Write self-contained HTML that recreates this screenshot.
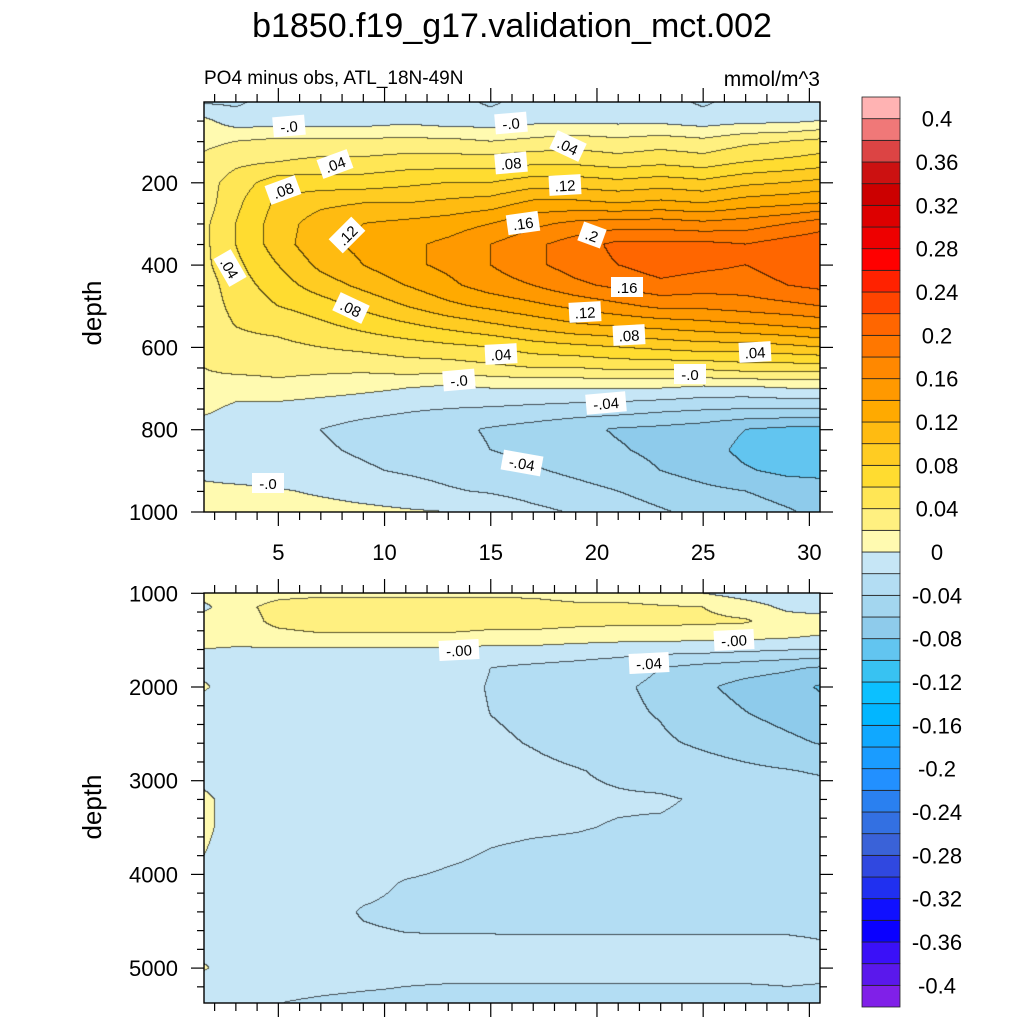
<!DOCTYPE html>
<html><head><meta charset="utf-8">
<style>
html,body{margin:0;padding:0;background:#fff;}
body{width:1024px;height:1024px;position:relative;overflow:hidden;font-family:"Liberation Sans",sans-serif;}
canvas{position:absolute;}
svg{position:absolute;left:0;top:0;}
</style></head>
<body>
<canvas id="c1" style="left:204px;top:102px" width="616" height="410"></canvas>
<canvas id="c2" style="left:204px;top:593px" width="616" height="410"></canvas>
<svg id="ov" width="1024" height="1024"></svg>
<script>
// ---- data ----
const years = [1.5,3,5,7,9,11,13,15,17,19,21,23,25,27,29,30.5];
const depthsTop = [0,50,100,150,200,250,300,350,400,450,500,550,600,650,700,750,800,850,900,950,1000];
const valuesTop = [
[-0.025,-0.025,-0.01,-0.02,-0.01,-0.01,-0.01,-0.025,-0.01,-0.01,-0.01,-0.01,-0.025,-0.01,-0.01,-0.01],
[0.005,-0.01,-0.01,-0.01,-0.01,-0.005,-0.01,-0.01,-0.005,-0.005,-0.005,-0.005,-0.01,-0.005,-0.005,0.0],
[0.015,0.02,0.025,0.025,0.025,0.025,0.025,0.02,0.025,0.03,0.025,0.03,0.025,0.035,0.04,0.045],
[0.025,0.035,0.04,0.045,0.045,0.05,0.05,0.05,0.055,0.055,0.05,0.055,0.05,0.06,0.065,0.07],
[0.03,0.05,0.07,0.07,0.07,0.075,0.08,0.08,0.09,0.09,0.085,0.09,0.085,0.095,0.1,0.105],
[0.03,0.055,0.085,0.095,0.1,0.1,0.105,0.11,0.125,0.125,0.12,0.125,0.12,0.13,0.135,0.14],
[0.035,0.06,0.09,0.11,0.12,0.125,0.13,0.14,0.155,0.165,0.17,0.17,0.165,0.17,0.18,0.19],
[0.035,0.06,0.09,0.115,0.125,0.135,0.145,0.16,0.175,0.19,0.205,0.205,0.205,0.2,0.21,0.215],
[0.035,0.055,0.08,0.105,0.12,0.135,0.145,0.16,0.175,0.19,0.2,0.21,0.205,0.2,0.21,0.215],
[0.03,0.05,0.07,0.09,0.105,0.12,0.135,0.15,0.16,0.175,0.185,0.195,0.19,0.19,0.2,0.205],
[0.03,0.045,0.06,0.07,0.085,0.1,0.115,0.125,0.135,0.145,0.155,0.165,0.165,0.17,0.175,0.18],
[0.03,0.04,0.045,0.055,0.065,0.075,0.085,0.095,0.105,0.115,0.12,0.125,0.13,0.135,0.14,0.145],
[0.025,0.035,0.035,0.04,0.045,0.05,0.055,0.06,0.07,0.075,0.08,0.085,0.09,0.09,0.095,0.1],
[0.02,0.025,0.025,0.025,0.025,0.03,0.03,0.035,0.04,0.04,0.045,0.045,0.045,0.05,0.05,0.05],
[0.015,0.01,0.015,0.01,0.005,0.0,-0.005,0.0,0.0,0.0,0.0,0.0,-0.005,-0.005,0.0,0.0],
[0.005,-0.005,-0.008,-0.012,-0.015,-0.018,-0.02,-0.022,-0.025,-0.028,-0.03,-0.035,-0.038,-0.04,-0.04,-0.04],
[-0.01,-0.012,-0.015,-0.02,-0.025,-0.028,-0.035,-0.042,-0.048,-0.055,-0.062,-0.065,-0.07,-0.08,-0.085,-0.085],
[-0.01,-0.012,-0.015,-0.018,-0.022,-0.026,-0.032,-0.04,-0.045,-0.05,-0.058,-0.065,-0.072,-0.085,-0.09,-0.09],
[-0.005,-0.01,-0.012,-0.015,-0.018,-0.022,-0.026,-0.032,-0.038,-0.044,-0.05,-0.06,-0.068,-0.078,-0.085,-0.085],
[0.005,0.005,0.002,-0.003,-0.008,-0.012,-0.018,-0.022,-0.028,-0.034,-0.04,-0.048,-0.055,-0.06,-0.068,-0.072],
[0.0,0.01,0.01,0.008,0.005,0.002,0.0,-0.005,-0.015,-0.022,-0.03,-0.038,-0.045,-0.05,-0.058,-0.065]
];
const depthsBot = [1000,1150,1300,1450,1600,1800,2000,2300,2600,2900,3200,3500,3800,4100,4400,4700,5000,5200,5380];
const valuesBot = [
[0.01,0.01,0.015,0.015,0.015,0.015,0.015,0.015,0.015,0.01,0.01,0.005,0.0,-0.01,-0.015,-0.02],
[-0.005,0.015,0.025,0.03,0.03,0.03,0.03,0.03,0.028,0.025,0.025,0.022,0.02,0.01,-0.005,-0.01],
[0.01,0.01,0.025,0.03,0.03,0.03,0.03,0.028,0.028,0.026,0.025,0.025,0.024,0.022,0.01,0.01],
[0.01,0.01,0.015,0.018,0.018,0.018,0.018,0.015,0.015,0.012,0.01,0.01,0.008,0.008,0.005,0.0],
[0.0,-0.002,-0.002,-0.003,-0.003,-0.002,-0.002,-0.005,-0.005,-0.008,-0.01,-0.012,-0.012,-0.015,-0.018,-0.02],
[-0.005,-0.005,-0.005,-0.008,-0.01,-0.01,-0.012,-0.02,-0.024,-0.027,-0.032,-0.04,-0.047,-0.052,-0.057,-0.062],
[0.002,-0.008,-0.01,-0.01,-0.012,-0.012,-0.014,-0.021,-0.024,-0.03,-0.037,-0.044,-0.057,-0.066,-0.072,-0.082],
[-0.01,-0.01,-0.01,-0.01,-0.012,-0.012,-0.015,-0.02,-0.024,-0.029,-0.036,-0.041,-0.051,-0.059,-0.066,-0.071],
[-0.01,-0.01,-0.01,-0.01,-0.012,-0.012,-0.014,-0.017,-0.021,-0.026,-0.031,-0.037,-0.043,-0.049,-0.056,-0.061],
[-0.01,-0.01,-0.01,-0.01,-0.012,-0.012,-0.013,-0.014,-0.016,-0.019,-0.023,-0.028,-0.032,-0.036,-0.039,-0.042],
[0.005,-0.01,-0.01,-0.01,-0.01,-0.01,-0.012,-0.013,-0.015,-0.017,-0.018,-0.018,-0.022,-0.025,-0.028,-0.03],
[0.005,-0.01,-0.01,-0.01,-0.012,-0.013,-0.015,-0.017,-0.018,-0.019,-0.021,-0.022,-0.024,-0.025,-0.026,-0.027],
[0.0,-0.01,-0.01,-0.01,-0.012,-0.014,-0.018,-0.021,-0.023,-0.024,-0.025,-0.025,-0.025,-0.026,-0.026,-0.027],
[-0.008,-0.01,-0.01,-0.012,-0.016,-0.021,-0.023,-0.024,-0.025,-0.025,-0.025,-0.025,-0.025,-0.025,-0.025,-0.025],
[-0.008,-0.01,-0.012,-0.015,-0.021,-0.023,-0.024,-0.024,-0.025,-0.025,-0.025,-0.025,-0.025,-0.025,-0.025,-0.025],
[-0.01,-0.012,-0.014,-0.016,-0.018,-0.019,-0.019,-0.019,-0.019,-0.019,-0.019,-0.019,-0.019,-0.019,-0.019,-0.02],
[0.002,-0.01,-0.012,-0.012,-0.013,-0.014,-0.014,-0.014,-0.014,-0.014,-0.014,-0.014,-0.014,-0.014,-0.014,-0.014],
[-0.01,-0.012,-0.014,-0.016,-0.018,-0.02,-0.021,-0.021,-0.021,-0.021,-0.021,-0.021,-0.021,-0.021,-0.02,-0.021],
[-0.012,-0.015,-0.02,-0.023,-0.025,-0.025,-0.025,-0.025,-0.025,-0.025,-0.025,-0.025,-0.025,-0.025,-0.025,-0.025]
];
const xTickLabels = [5,10,15,20,25,30];
const yTickTop = [200,400,600,800,1000];
const yTickBot = [1000,2000,3000,4000,5000];
const cbLabels = ["0.4","0.36","0.32","0.28","0.24","0.2","0.16","0.12","0.08","0.04","0","-0.04","-0.08","-0.12","-0.16","-0.2","-0.24","-0.28","-0.32","-0.36","-0.4"];
// colours from lowest (< -0.4) to highest (> 0.4)
const palette = ["#8020e8","#5a18ec","#3a10f8","#0a00ff","#1010ff","#2030f0","#3048e0","#3a62d8","#3370e2","#2a80f0","#2290ff","#1a9cff","#10a8ff","#02b6ff","#0cc0ff","#38c2f2","#62c5f0","#8ecbeb","#a3d6ef","#b3ddf3","#c6e6f6",
"#fffab0","#fff080","#ffe655","#ffdc30","#ffcc22","#ffbb11","#ffaa00","#ff9900","#ff8800","#ff7700","#ff6600","#ff4400","#ff2200","#ff0000","#ee0000","#dd0000","#cc0000","#cc1111","#dc4444","#f07878","#ffb3b3"];

// ---- axes ----
const X0=204, X1=820;
const xPx = yr => X0 + (yr-1.5)*(X1-X0)/29;
const yTopPx = d => 100.5 + d*0.4115;
const yBotPx = d => 593.3 + (d-1000)*0.0937;
function levelIndex(v){ let i=Math.floor(v/0.02+1e-9)+21; return Math.max(0,Math.min(41,i)); }

function interp(grid, xs, ys, x, y){
  let i=0; while(i<xs.length-2 && x>xs[i+1]) i++;
  let j=0; while(j<ys.length-2 && y>ys[j+1]) j++;
  let tx=Math.max(0,Math.min(1,(x-xs[i])/(xs[i+1]-xs[i])));
  let ty=Math.max(0,Math.min(1,(y-ys[j])/(ys[j+1]-ys[j])));
  const a=grid[j][i],b=grid[j][i+1],c=grid[j+1][i],d=grid[j+1][i+1];
  return a*(1-tx)*(1-ty)+b*tx*(1-ty)+c*(1-tx)*ty+d*tx*ty;
}
function hex(h){return [parseInt(h.substr(1,2),16),parseInt(h.substr(3,2),16),parseInt(h.substr(5,2),16)];}
const pal = palette.map(hex);

function drawField(id, grid, depths, yPx, top){
  const cv=document.getElementById(id), ctx=cv.getContext('2d');
  const W=cv.width,H=cv.height;
  const xs=years.map(xPx), ys=depths.map(yPx);
  const idx=new Int16Array(W*H);
  for(let py=0;py<H;py++)for(let px=0;px<W;px++){
    idx[py*W+px]=levelIndex(interp(grid,xs,ys,X0+px+0.5,top+py+0.5));
  }
  const img=ctx.createImageData(W,H);
  for(let py=0;py<H;py++)for(let px=0;px<W;px++){
    const k=py*W+px; let c=pal[idx[k]];
    const edge=(px<W-1&&idx[k+1]!==idx[k])||(py<H-1&&idx[k+W]!==idx[k]);
    if(edge) c=[c[0]*0.35,c[1]*0.35,c[2]*0.35];
    img.data[k*4]=c[0];img.data[k*4+1]=c[1];img.data[k*4+2]=c[2];img.data[k*4+3]=255;
  }
  ctx.putImageData(img,0,0);
}
drawField('c1',valuesTop,depthsTop,yTopPx,102);
drawField('c2',valuesBot,depthsBot,yBotPx,593);

// ---- overlay ----
const NS="http://www.w3.org/2000/svg", ov=document.getElementById('ov');
function el(tag,attrs,text){const e=document.createElementNS(NS,tag);for(const k in attrs)e.setAttribute(k,attrs[k]);if(text!==undefined)e.textContent=text;ov.appendChild(e);return e;}
function line(x1,y1,x2,y2,name){const e=el('line',{x1,y1,x2,y2,stroke:'#000','stroke-width':1.2});

}
function txt(x,y,s,size,anchor,name,extra){const e=el('text',Object.assign({x,y,'font-size':size,'text-anchor':anchor,'font-family':'Liberation Sans, sans-serif',fill:'#000'},extra||{}),s);

return e;}

function frame(top,bot,name){const r=el('rect',{x:X0,y:top,width:X1-X0,height:bot-top,fill:'none',stroke:'#000','stroke-width':1.4});

}
frame(102,512,'upper-plot-frame');frame(593,1003,'lower-plot-frame');

// x ticks both plots
for(let yr=2;yr<=30;yr++){
  const x=xPx(yr), major=yr%5===0, L=major?14:8;
  line(x,512,x,512+L,'x-tick');line(x,102,x,102-L,'x-tick');
  line(x,1003,x,1003+L,'x-tick');line(x,593,x,593-L,'x-tick');
}
xTickLabels.forEach(v=>txt(xPx(v),560,String(v),22,'middle','x-tick-label'));
// y ticks top
for(let d=50;d<=1000;d+=50){const y=yTopPx(d),L=d%200===0?13:7;line(X0-L,y,X0,y,'y-tick');line(X1,y,X1+L,y,'y-tick');}
yTickTop.forEach(v=>txt(178,yTopPx(v)+8,String(v),22,'end','y-tick-label'));
for(let d=1000;d<=5300;d+=200){const y=yBotPx(d),L=(d%1000===0)?13:7;line(X0-L,y,X0,y,'y-tick');line(X1,y,X1+L,y,'y-tick');}
yTickBot.forEach(v=>txt(178,yBotPx(v)+8,String(v),22,'end','y-tick-label'));

// titles
txt(512,37,'b1850.f19_g17.validation_mct.002',34,'middle','main-title');
txt(204,84,'PO4 minus obs, ATL_18N-49N',19,'start','subtitle');
txt(820,86,'mmol/m^3',21,'end','units-label');
txt(101,313,'depth',26,'middle','y-axis-title-upper',{transform:'rotate(-90 101 313)'});
txt(101,807,'depth',26,'middle','y-axis-title-lower',{transform:'rotate(-90 101 807)'});

// contour labels
const cl=[[289,126,'-.0',-5],[511,123,'-.0',-5],[568,146,'.04',25],[335,164,'.04',-20],[511,163,'.08',-5],[565,185,'.12',-3],[283,190,'.08',-20],[523,223,'.16',-8],[347,235,'.12',-45],[592,235,'.2',20],[230,268,'.04',60],[627,287,'.16',0],[585,312,'.12',-3],[351,308,'.08',25],[629,335,'.08',-3],[501,354,'.04',-3],[755,352,'.04',-3],[459,380,'-.0',-5],[690,374,'-.0',0],[606,403,'-.04',-5],[522,463,'-.04',10],[268,483,'-.0',0],
[459,650,'-.00',-3],[734,640,'-.00',-3],[649,663,'-.04',-3]];
cl.forEach(([x,y,s,a])=>{
  const g=document.createElementNS(NS,'g');g.setAttribute('transform',`translate(${x} ${y}) rotate(${a})`);
  
  
  const w=s.length*8+8;
  const r=document.createElementNS(NS,'rect');r.setAttribute('x',-w/2);r.setAttribute('y',-10);r.setAttribute('width',w);r.setAttribute('height',20);r.setAttribute('fill','#fff');
  const t=document.createElementNS(NS,'text');t.setAttribute('x',0);t.setAttribute('y',6);t.setAttribute('font-size',15);t.setAttribute('text-anchor','middle');t.setAttribute('font-family','Liberation Sans, sans-serif');t.textContent=s;
  g.appendChild(r);g.appendChild(t);ov.appendChild(g);
});

// colorbar
const CB0=97, CB1=1007, cbH=(CB1-CB0)/42;
for(let i=0;i<42;i++){
  const r=el('rect',{x:862,y:CB1-(i+1)*cbH,width:38,height:cbH,fill:palette[i],stroke:'#222','stroke-width':0.8});
  
  
}
cbLabels.forEach((s,k)=>{const y=CB0+cbH*(1+2*k);txt(937,y+8,s,22,'middle','colorbar-label');});
</script>
</body></html>
